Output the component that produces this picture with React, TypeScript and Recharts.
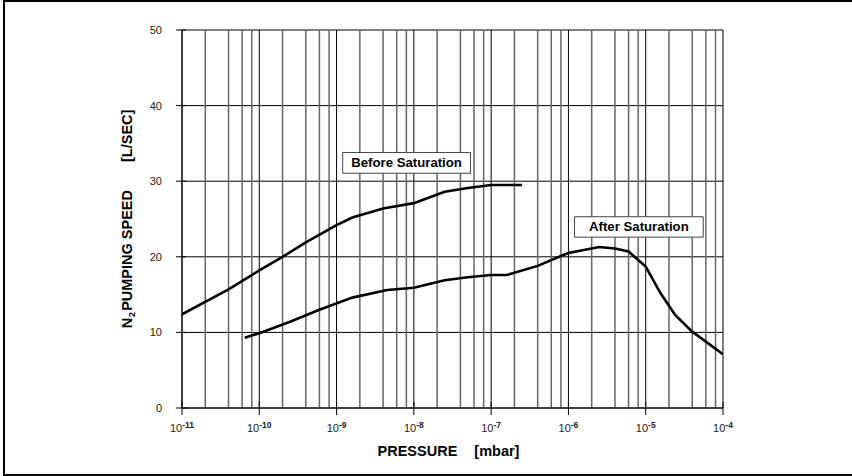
import React from 'react';
import { LineChart, Line, XAxis, YAxis, CartesianGrid, ReferenceLine, ReferenceArea, Label } from 'recharts';

// N2 pumping speed [L/s] vs pressure [mbar]
const beforePressure = [1e-11, 4e-11, 1e-10, 2e-10, 4e-10, 1e-9, 1.6e-9, 4e-9, 1e-8, 2.5e-8, 5e-8, 1e-7, 2.5e-7];
const beforeSpeed = [12.4, 15.7, 18.2, 20.0, 21.9, 24.2, 25.2, 26.4, 27.1, 28.6, 29.1, 29.5, 29.5];

const afterPressure = [
  6.5e-11, 1e-10, 2.5e-10, 6e-10, 1.6e-9, 4.5e-9, 1e-8, 2.5e-8, 5e-8, 1e-7, 1.6e-7, 4e-7, 8e-7, 1e-6,
  2.5e-6, 4e-6, 6e-6, 1e-5, 1.55e-5, 2.4e-5, 4e-5, 1e-4,
];
const afterSpeed = [
  9.3, 9.9, 11.4, 13.0, 14.6, 15.6, 15.9, 16.9, 17.3, 17.6, 17.6, 18.8, 20.1, 20.5,
  21.3, 21.1, 20.7, 18.7, 15.2, 12.3, 10.1, 7.1,
];

const decadeExponents = [-11, -10, -9, -8, -7, -6, -5, -4];
const minorSteps = [2, 4, 6, 8];
const speedTicks = [0, 10, 20, 30, 40, 50];

const beforeData = beforePressure.map((p, i) => ({ p, speed: beforeSpeed[i] }));
const afterData = afterPressure.map((p, i) => ({ p, speed: afterSpeed[i] }));
const decades = decadeExponents.map((e) => Math.pow(10, e));
const minors = decadeExponents.slice(0, -1).flatMap((e) => minorSteps.map((m) => m * Math.pow(10, e)));

const FONT = '"Liberation Sans", Arial, sans-serif';

const PressureTick = ({ x, y, payload }: any) => {
  const exp = Math.round(Math.log10(payload.value));
  return (
    <g>
      <line x1={x} x2={x} y1={y - 17} y2={y - 11} stroke="#000" />
      <text x={x} y={y + 13} textAnchor="middle" fontSize={11} fill="#222" fontFamily={FONT}>
        10
        <tspan fontSize={8.5} fontWeight="bold" dy={-4}>{`-${Math.abs(exp)}`}</tspan>
      </text>
    </g>
  );
};

const SpeedTick = ({ x, y, payload }: any) => (
  <g>
    <line x1={x + 20} x2={x + 24} y1={y} y2={y} stroke="#000" />
    <text x={x} y={y} dy={4} textAnchor="end" fontSize={11} fill="#222" fontFamily={FONT}>
      {payload.value}
    </text>
  </g>
);

const XTitle = ({ viewBox }: any) => (
  <text
    x={viewBox.x + viewBox.width / 2 - 4}
    y={viewBox.y + 48}
    textAnchor="middle"
    fontSize={14.5}
    fontWeight="bold"
    fill="#000"
    fontFamily={FONT}
  >
    PRESSURE
    <tspan dx={17}>[mbar]</tspan>
  </text>
);

const YTitle = ({ viewBox }: any) => {
  const cy = viewBox.y + viewBox.height / 2;
  return (
    <text
      transform={`translate(127,${cy}) rotate(-90)`}
      textAnchor="middle"
      dominantBaseline="central"
      fontSize={14.5}
      fontWeight="bold"
      fill="#000"
      fontFamily={FONT}
    >
      N
      <tspan fontSize={9} dy={5} dx={1}>2</tspan>
      <tspan dy={-5} dx={1}>PUMPING SPEED</tspan>
      <tspan dx={28}>[L/SEC]</tspan>
    </text>
  );
};

const boxLabel = (text: string) => ({ viewBox }: any) => (
  <text
    x={viewBox.x + viewBox.width / 2}
    y={viewBox.y + viewBox.height / 2}
    dy={4.5}
    textAnchor="middle"
    fontSize={13.2}
    fontWeight="bold"
    fill="#000"
    fontFamily={FONT}
  >
    {text}
  </text>
);

export default function App() {
  return (
    <div style={{ position: 'absolute', left: 0, top: 0, width: 852, height: 476, overflow: 'hidden', background: '#fff' }}>
      <div
        style={{
          position: 'absolute',
          left: 3,
          top: 0,
          width: 1000,
          height: 476,
          boxSizing: 'border-box',
          borderTop: '2px solid #000',
          borderLeft: '2px solid #000',
          borderBottom: '2px solid #000',
        }}
      />
      <div style={{ position: 'absolute', left: 0, top: 0 }}>
        <LineChart width={852} height={476} margin={{ top: 30, right: 129, bottom: 0, left: 0 }}>
          <CartesianGrid vertical={false} stroke="#000" strokeWidth={1} />
          {minors.map((v) => (
            <ReferenceLine key={`m${v}`} x={v} stroke="#666" strokeWidth={1.5} />
          ))}
          {decades.map((v) => (
            <ReferenceLine key={`d${v}`} x={v} stroke="#000" strokeWidth={1} />
          ))}
          <XAxis
            dataKey="p"
            type="number"
            scale="log"
            domain={[1e-11, 1e-4]}
            ticks={decades}
            allowDataOverflow
            height={68}
            tickSize={7}
            tickMargin={4}
            axisLine={{ stroke: '#000' }}
            tickLine={{ stroke: '#000' }}
            tick={<PressureTick />}
            interval={0}
          >
            <Label content={<XTitle />} />
          </XAxis>
          <YAxis
            type="number"
            domain={[0, 50]}
            ticks={speedTicks}
            width={182}
            tickSize={6}
            tickMargin={14}
            axisLine={{ stroke: '#000' }}
            tickLine={{ stroke: '#000' }}
            tick={<SpeedTick />}
            interval={0}
          >
            <Label content={<YTitle />} />
          </YAxis>
          <Line
            data={beforeData}
            dataKey="speed"
            type="linear"
            stroke="#000"
            strokeWidth={2.6}
            dot={false}
            isAnimationActive={false}
          />
          <Line
            data={afterData}
            dataKey="speed"
            type="linear"
            stroke="#000"
            strokeWidth={2.6}
            dot={false}
            isAnimationActive={false}
          />
          <ReferenceArea
            x1={1.2e-9}
            x2={5.4e-8}
            y1={31.05}
            y2={33.8}
            fill="#fff"
            fillOpacity={1}
            stroke="#444"
            strokeWidth={1}
            zIndex={450}
            label={boxLabel('Before Saturation')}
          />
          <ReferenceArea
            x1={1.2e-6}
            x2={5.55e-5}
            y1={22.6}
            y2={25.3}
            fill="#fff"
            fillOpacity={1}
            stroke="#444"
            strokeWidth={1}
            zIndex={450}
            label={boxLabel('After Saturation')}
          />
        </LineChart>
      </div>
    </div>
  );
}
